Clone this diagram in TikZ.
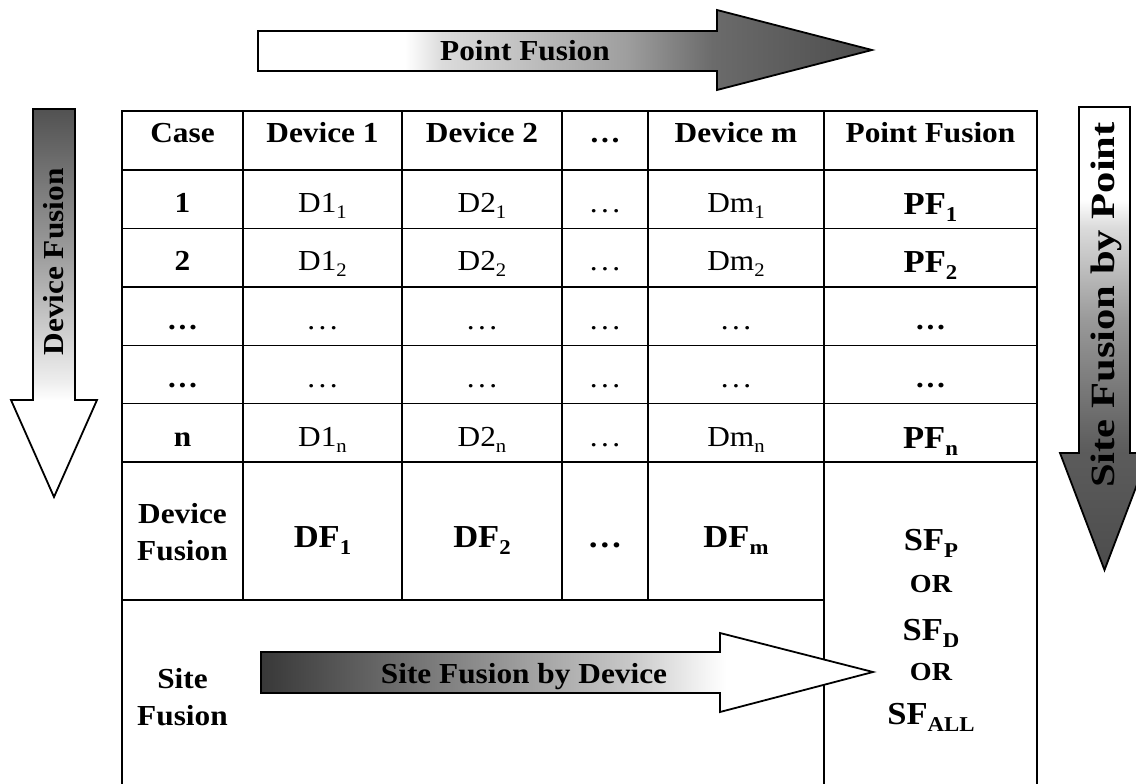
\documentclass[tikz,border=0pt]{standalone}
\usepackage{fontspec}
\setmainfont[FakeStretch=1.08]{Liberation Serif}
\usepackage{graphicx}
\newcommand{\myfs}[1]{\fontsize{#1}{#1}\selectfont}
\newcommand{\lsub}[1]{\raisebox{-0.24em}{\scalebox{0.66}{#1}}}
\newcommand{\sdots}{.\kern3.5pt.\kern3.5pt.}
\definecolor{gT1}{gray}{0.86}
\definecolor{gT2}{gray}{0.62}
\definecolor{gT3}{gray}{0.42}
\definecolor{gT4}{gray}{0.30}
\definecolor{gL1}{gray}{0.93}
\definecolor{gL2}{gray}{0.62}
\definecolor{gL3}{gray}{0.32}
\definecolor{gR0}{gray}{0.30}
\definecolor{gR1}{gray}{0.36}
\definecolor{gR2}{gray}{0.60}
\definecolor{gR3}{gray}{0.86}
\definecolor{gB0}{gray}{0.22}
\definecolor{gB1}{gray}{0.50}
\definecolor{gB2}{gray}{0.78}
\definecolor{gB3}{gray}{0.95}
\pgfdeclarehorizontalshading{shtop}{100bp}{color(0bp)=(white); color(37bp)=(white); color(40bp)=(gT1); color(55bp)=(gT2); color(62bp)=(gT3); color(75bp)=(gT4); color(100bp)=(gT4)}
\pgfdeclareverticalshading{shleft}{100bp}{color(0bp)=(white); color(37.5bp)=(white); color(40bp)=(gL1); color(56bp)=(gL2); color(75bp)=(gL3); color(100bp)=(gL3)}
\pgfdeclareverticalshading{shright}{100bp}{color(0bp)=(gR0); color(25bp)=(gR0); color(38bp)=(gR1); color(52bp)=(gR2); color(62bp)=(gR3); color(65bp)=(white); color(100bp)=(white)}
\pgfdeclarehorizontalshading{shbot}{100bp}{color(0bp)=(gB0); color(25bp)=(gB0); color(40bp)=(gB1); color(55bp)=(gB2); color(61bp)=(gB3); color(63bp)=(white); color(100bp)=(white)}
\begin{document}
\begin{tikzpicture}[x=1pt,y=-1pt,
  cell/.style={anchor=base, inner sep=0pt, font=\myfs{29}},
  bcell/.style={anchor=base, inner sep=0pt, font=\myfs{29}\bfseries},
  big/.style={anchor=base, inner sep=0pt, font=\myfs{32}\bfseries},
  orst/.style={anchor=base, inner sep=0pt, font=\myfs{26}\bfseries},
  grid/.style={line width=1.6pt, draw=black},
  arrowline/.style={draw=black, line width=1.8pt, line join=miter}]
\useasboundingbox (0,0) rectangle (1136,784);
\begin{scope}
\clip (0,0) rectangle (1136,784);
% table grid
\draw[grid] (122,784) -- (122,111) -- (1037,111) -- (1037,784);
\foreach \yy in {170,228.5,287,345.5,403.5,462} \draw[grid] (122,\yy) -- (1037,\yy);
\draw[grid] (122,600) -- (824,600);
\foreach \xx in {243,402,562,648} \draw[grid] (\xx,111) -- (\xx,600);
\draw[grid] (824,111) -- (824,784);
% arrows
\shadedraw[shading=shtop, arrowline] (258,31) -- (717,31) -- (717,10) -- (872,50) -- (717,90) -- (717,71) -- (258,71) -- cycle;
\shadedraw[shading=shleft, arrowline] (33,109) -- (75,109) -- (75,400) -- (97,400) -- (54,497) -- (11,400) -- (33,400) -- cycle;
\shadedraw[shading=shright, arrowline] (1079,107) -- (1130,107) -- (1130,453) -- (1149,453) -- (1104.5,570) -- (1060,453) -- (1079,453) -- cycle;
\shadedraw[shading=shbot, arrowline] (261,652) -- (720,652) -- (720,633) -- (873,672) -- (720,712) -- (720,693) -- (261,693) -- cycle;
\end{scope}
% header
\node[bcell] (h0) at (182.5,142) {Case};
\node[bcell] (h1) at (322.5,142) {Device 1};
\node[bcell] (h2) at (482,142) {Device 2};
\node[bcell] (h3) at (605,142) {…};
\node[bcell] (h4) at (736,142) {Device m};
\node[bcell] (h5) at (930.5,142) {Point Fusion};
% row 1
\node[bcell] (r1c0) at (182.5,212) {1};
\node[cell] (r1c1) at (322.5,212) {D1\lsub{1}};
\node[cell] (r1c2) at (482,212) {D2\lsub{1}};
\node[cell] (r1c3) at (605,212) {\sdots};
\node[cell] (r1c4) at (736,212) {Dm\lsub{1}};
\node[big] (r1c5) at (930.5,214) {PF\lsub{1}};
% row 2
\node[bcell] (r2c0) at (182.5,270) {2};
\node[cell] (r2c1) at (322.5,270) {D1\lsub{2}};
\node[cell] (r2c2) at (482,270) {D2\lsub{2}};
\node[cell] (r2c3) at (605,270) {\sdots};
\node[cell] (r2c4) at (736,270) {Dm\lsub{2}};
\node[big] (r2c5) at (930.5,272) {PF\lsub{2}};
% row 3
\node[bcell] (r3c0) at (182.5,329) {…};
\node[cell] (r3c1) at (322.5,329) {\sdots};
\node[cell] (r3c2) at (482,329) {\sdots};
\node[cell] (r3c3) at (605,329) {\sdots};
\node[cell] (r3c4) at (736,329) {\sdots};
\node[bcell] (r3c5) at (930.5,329) {…};
% row 4
\node[bcell] (r4c0) at (182.5,387) {…};
\node[cell] (r4c1) at (322.5,387) {\sdots};
\node[cell] (r4c2) at (482,387) {\sdots};
\node[cell] (r4c3) at (605,387) {\sdots};
\node[cell] (r4c4) at (736,387) {\sdots};
\node[bcell] (r4c5) at (930.5,387) {…};
% row n
\node[bcell] (r5c0) at (182.5,446) {n};
\node[cell] (r5c1) at (322.5,446) {D1\lsub{n}};
\node[cell] (r5c2) at (482,446) {D2\lsub{n}};
\node[cell] (r5c3) at (605,446) {\sdots};
\node[cell] (r5c4) at (736,446) {Dm\lsub{n}};
\node[big] (r5c5) at (930.5,448) {PF\lsub{n}};
% device fusion row
\node[bcell] (dfl1) at (182.5,523) {Device};
\node[bcell] (dfl2) at (182.5,560) {Fusion};
\node[big] (df1) at (322.5,547) {DF\lsub{1}};
\node[big] (df2) at (482,547) {DF\lsub{2}};
\node[big] (dfd) at (605,547) {…};
\node[big] (dfm) at (736,547) {DF\lsub{m}};
% site fusion
\node[bcell] (sfl1) at (182.5,688) {Site};
\node[bcell] (sfl2) at (182.5,725) {Fusion};
\node[big] (sfp) at (931,550) {SF\lsub{P}};
\node[orst] (or1) at (931,592) {OR};
\node[big] (sfd) at (931,640) {SF\lsub{D}};
\node[orst] (or2) at (931,680) {OR};
\node[big] (sfa) at (931,724) {SF\lsub{ALL}};
% arrow labels
\node[bcell] (lblpf) at (525,61) {Point Fusion};
\node[bcell] (lblsd) at (524,683) {Site Fusion by Device};
\node[inner sep=0pt, font=\myfs{29}\bfseries, anchor=center, rotate=90] (lbldf) at (54,262) {Device Fusion};
\node[inner sep=0pt, font=\myfs{34}\bfseries, anchor=center, rotate=90] (lblsp) at (1106,305) {\scalebox{1.16}[1]{Site Fusion by Point}};
\end{tikzpicture}
\end{document}
